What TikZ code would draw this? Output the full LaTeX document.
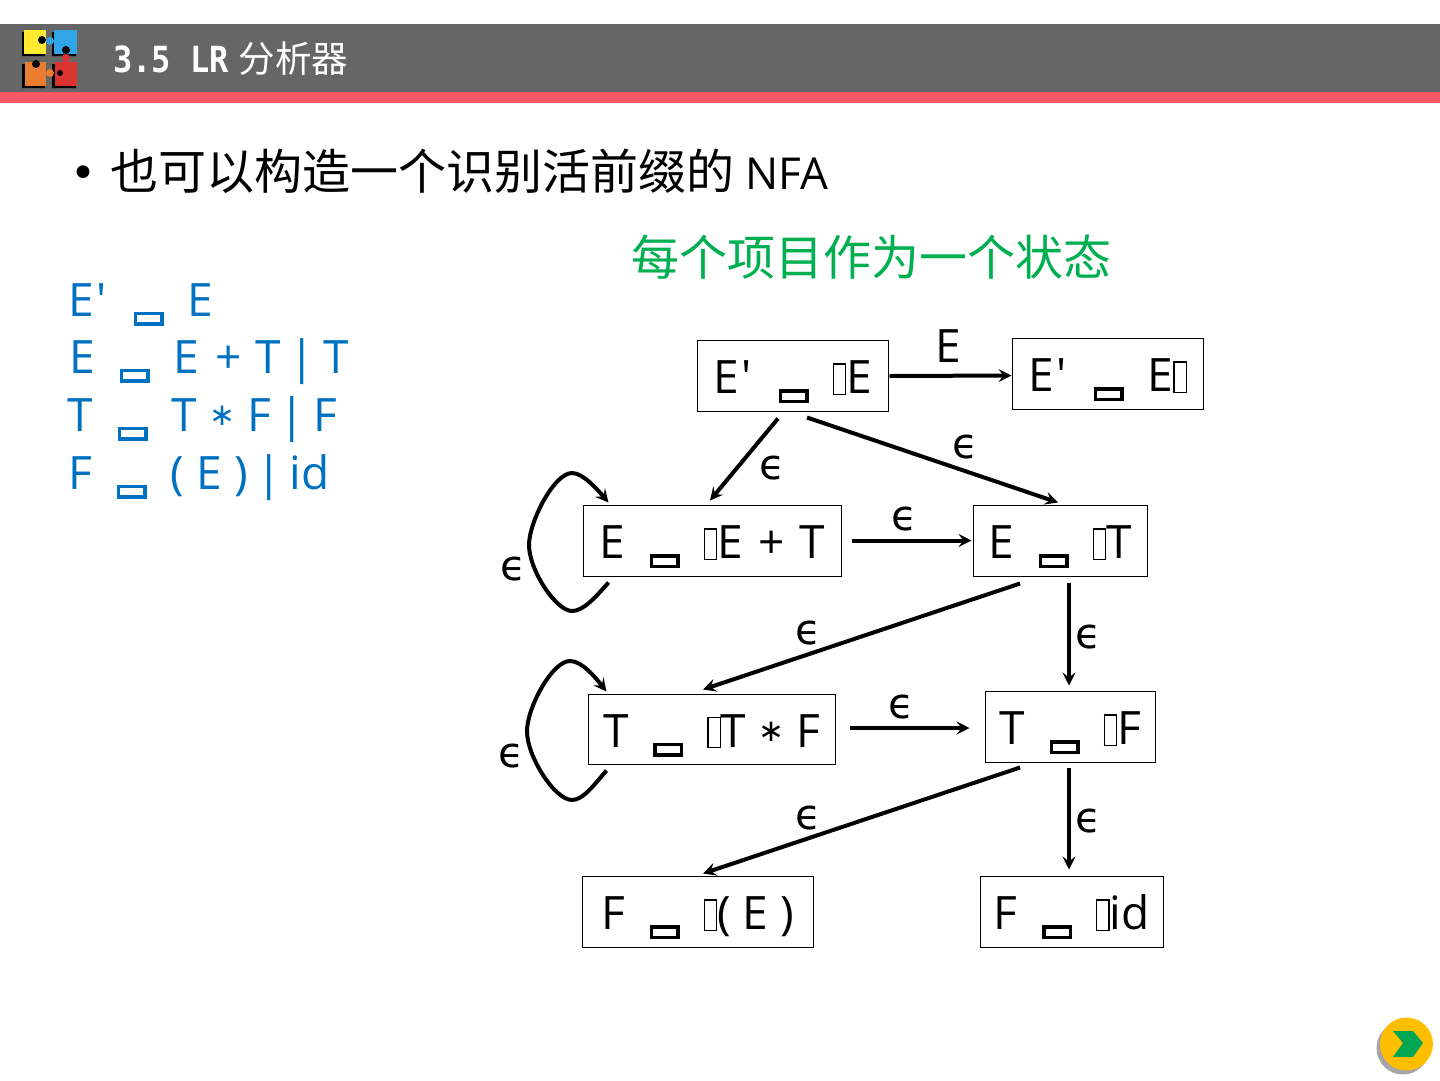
\documentclass[tikz,border=0pt]{standalone}
\usepackage{fontspec}
\usepackage{xcolor}
\newfontfamily\opens{Open Sans}
\newfontfamily\dejavu{DejaVu Sans}
\newfontfamily\titlefont{DejaVu Sans Mono Bold}[FakeStretch=0.89]
\newfontfamily\cjk{Noto Sans CJK SC}
\usetikzlibrary{arrows.meta}
\definecolor{headgray}{RGB}{102,102,102}
\definecolor{headred}{RGB}{249,87,102}
\definecolor{gramblue}{RGB}{0,112,192}
\definecolor{stategreen}{RGB}{0,176,80}
\definecolor{btnyellow}{RGB}{255,191,0}
\definecolor{btngreen}{RGB}{0,166,81}
\definecolor{logoyellow}{RGB}{255,235,50}
\definecolor{logoblue}{RGB}{50,165,230}
\definecolor{logoorange}{RGB}{235,125,50}
\definecolor{logored}{RGB}{220,50,50}
\newcommand{\tofuw}{\smash{\raisebox{-6pt}{\setlength{\fboxsep}{0pt}\setlength{\fboxrule}{3.5pt}\fbox{\rule{23pt}{0pt}\rule{0pt}{7pt}}}}}
\newcommand{\tofun}{\raisebox{0pt}{\setlength{\fboxsep}{0pt}\setlength{\fboxrule}{1.2pt}\fbox{\rule{11pt}{0pt}\rule{0pt}{29pt}}}}
\newcommand{\yields}{\kern25pt\tofuw\kern24pt}
\newcommand{\astr}{\kern12pt\raisebox{6pt}{\dejavu\fontsize{31}{31}\selectfont ∗}\kern12pt}
\newcommand{\plusm}{\kern4pt+\kern2pt}
\newcommand{\barm}{\kern-3.5pt|\kern-3.5pt}
\newcommand{\primem}{\kern3pt'\kern2pt}
\begin{document}
\begin{tikzpicture}[x=1pt, y=-1pt,
  state/.style={draw, line width=1pt, inner sep=0pt, text height=36pt, text depth=0pt, font=\opens\fontsize{46}{50}\selectfont},
  eps/.style={inner sep=0pt, font=\dejavu\fontsize{42}{48}\selectfont},
  gram/.style={anchor=base west, inner sep=0pt, text=gramblue, font=\opens\fontsize{46}{50}\selectfont},
  p/.style={-{Stealth[length=13pt, width=13pt, inset=5pt]}, line width=4pt}]
\useasboundingbox (0,0) rectangle (1440,1080);
% header
\fill[headgray] (0,24) rectangle (1440,92);
\fill[headred] (0,92) rectangle (1440,103);
\fill[black] (22,32) rectangle (45,56) (52,32) rectangle (76,56) (22,64) rectangle (45,88) (52,64) rectangle (76,88);
\fill[logoyellow] (24,30) rectangle (46,54);
\fill[logoblue] (54,30) rectangle (77,54);
\fill[logoorange] (25,62) rectangle (46,86);
\fill[logored] (55,62) rectangle (77,86);
\fill[logoblue] (50,41) circle (4);
\fill[black] (66,50) circle (4) (36,64) circle (4) (42,40) circle (4) (60,73) circle (3);
\fill[logored] (66,58) circle (4);
\fill[logoorange] (50,73) circle (4);
\node[anchor=base west, inner sep=0pt, text=white, font=\titlefont\fontsize{36}{40}\selectfont] (title) at (113,72) {3.5 LR\kern10pt{\cjk\fontsize{36.5}{40}\selectfont 分析器}};
% bullet line
\node[anchor=center, inner sep=0pt, font=\dejavu\fontsize{44}{50}\selectfont] (dot) at (83,177) {•};
\node[anchor=base west, inner sep=0pt, font=\opens\fontsize{44}{50}\selectfont] (head) at (110,189) {{\cjk\fontsize{48}{50}\selectfont 也可以构造一个识别活前缀的}\kern11pt NFA};
\node[inner sep=0pt, text=stategreen, font=\cjk\fontsize{48}{50}\selectfont] (note) at (871,257) {每个项目作为一个状态};
% grammar
\node[gram] (g0) at (68,316) {E\primem\yields E};
\node[gram] (g1) at (69,373) {E\yields E \plusm\ T \barm\ T};
\node[gram] (g2) at (67,431) {T\yields T\astr F \barm\ F};
\node[gram] (g3) at (68,489) {F\yields ( E ) \barm\ id};
% states
\node[state, minimum width=191pt, minimum height=71pt] (b0) at (792.5,375.5) {E\primem\yields\tofun E};
\node[state, minimum width=191pt, minimum height=71pt] (b1) at (1107.5,373.5) {E\primem\yields E\tofun};
\node[state, minimum width=258pt, minimum height=71pt] (b2) at (712,540.5) {E\yields\tofun E \plusm\ T};
\node[state, minimum width=174pt, minimum height=71pt] (b3) at (1060,540.5) {E\yields\tofun T};
\node[state, minimum width=247pt, minimum height=70pt] (b4) at (711.5,729) {T\yields\tofun T\astr F};
\node[state, minimum width=170pt, minimum height=71pt] (b5) at (1070,726.5) {T\yields\tofun F};
\node[state, minimum width=231pt, minimum height=71pt] (b6) at (697.5,911.5) {F\yields\tofun( E )};
\node[state, minimum width=183pt, minimum height=71pt] (b7) at (1071.5,911.5) {F\yields\tofun id};
% labels
\node[inner sep=0pt, font=\opens\fontsize{46}{50}\selectfont] (lE) at (948,346) {E};
\foreach \nm/\x/\y in {e1/772/468, e2/965/447, e3/904/519, e4/513/569, e5/808/633, e6/1088/637, e7/901/707, e8/511/756, e9/808/818, e10/1088/821}
  \node[eps] (\nm) at (\x,\y) {ϵ};
% edges
\draw[p] ([xshift=1pt,yshift=-0.5pt]b0.east) -- (b1.west |- b0.east);
\draw[p] ([xshift=-14.5pt,yshift=-7pt]b0.south) -- ([xshift=-2pt,yshift=4pt]b2.north);
\draw[p] ([xshift=14.5pt,yshift=-6pt]b0.south) -- ([xshift=-2pt,yshift=2pt]b3.north);
\draw[p] ([xshift=10pt]b2.east) -- ([xshift=-1pt]b3.west);
\draw[p] ([xshift=-40pt,yshift=-7pt]b3.south) -- ([xshift=-8.5pt,yshift=4pt]b4.north);
\draw[p] ([xshift=9pt,yshift=-6pt]b3.south) -- ([xshift=-1pt,yshift=5pt]b5.north);
\draw[p] ([xshift=14pt,yshift=1pt]b4.east) -- ([xshift=-15pt,yshift=-1.5pt]b5.west);
\draw[p] ([xshift=-50pt,yshift=-5pt]b5.south) -- ([xshift=5.5pt,yshift=2pt]b6.north);
\draw[p] ([xshift=-1pt,yshift=-5pt]b5.south) -- ([xshift=-2.5pt,yshift=6pt]b7.north);
% self loops
\draw[p] ([xshift=26pt,yshift=-6pt]b2.south west) .. controls (595,598) and (583,611) .. (572,611)
  .. controls (556,611) and (529,570) .. (529,545) .. controls (529,522) and (554,473) .. (572,473)
  .. controls (583,473) and (597,489) .. ([xshift=26pt,yshift=2pt]b2.north west);
\draw[p] ([xshift=19pt,yshift=-6pt]b4.south west) .. controls (594,785) and (583,800) .. (572,800)
  .. controls (555,800) and (527,757) .. (527,731) .. controls (527,708) and (552,661) .. (570,661)
  .. controls (582,661) and (595,677) .. ([xshift=19pt,yshift=2pt]b4.north west);
% next button
\fill[gray!70] (1403,1048) circle (26.5);
\fill[btnyellow] (1406.5,1044) circle (26.5);
\fill[btngreen] (1393,1031) -- (1413,1031) -- (1423,1043) -- (1413,1057) -- (1393,1057) -- (1403,1043) -- cycle;
\end{tikzpicture}
\end{document}
